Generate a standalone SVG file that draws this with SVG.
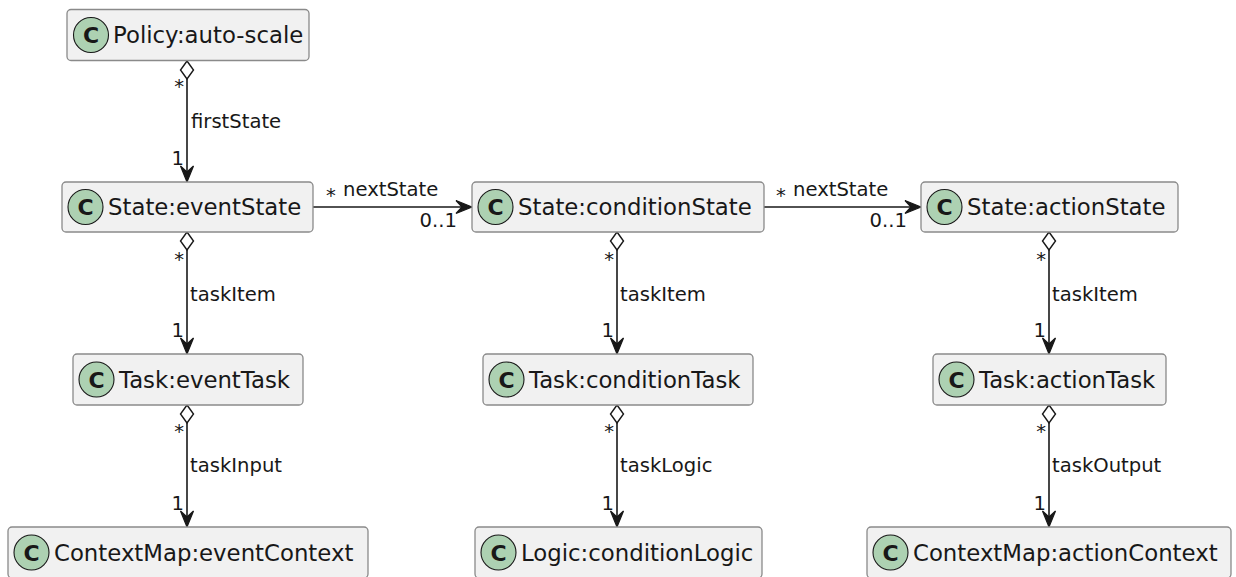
<svg xmlns="http://www.w3.org/2000/svg" width="1236" height="577" viewBox="0 0 1236 577">
<style>
.box{fill:#F1F1F1;stroke:#8a8a8a;stroke-width:1.3}
.ci{fill:#ADD1B2;stroke:#181818;stroke-width:1.1}
.cl{font-family:"DejaVu Sans",sans-serif;font-size:22px;font-weight:bold;fill:#181818;text-anchor:middle}
.nm{font-family:"DejaVu Sans",sans-serif;font-size:22.8px;fill:#181818}
.lb{font-family:"DejaVu Sans",sans-serif;font-size:19.6px;fill:#181818}
.en{text-anchor:end}
.ln{stroke:#181818;stroke-width:1.6;fill:none}
.dm{fill:#FFFFFF;stroke:#181818;stroke-width:1.4}
.ah{fill:#181818;stroke:#181818;stroke-width:1.2;stroke-linejoin:miter}
</style>
<rect width="1236" height="577" fill="#FFFFFF"/>
<g id="connectors">
  <!-- Policy -> eventState -->
  <polygon class="dm" points="187,61 193.5,70 187,79 180.5,70"/>
  <line class="ln" x1="187" y1="79" x2="187" y2="180"/>
  <polygon class="ah" points="187,182 180.5,166 187,172 193.5,166"/>
  <text class="lb" x="191" y="128">firstState</text>
  <text class="lb en" x="184" y="93">*</text>
  <text class="lb en" x="184" y="165">1</text>
  <!-- eventState -> eventTask -->
  <polygon class="dm" points="187,232 193.5,241 187,250 180.5,241"/>
  <line class="ln" x1="187" y1="250" x2="187" y2="352"/>
  <polygon class="ah" points="187,354 180.5,338 187,344 193.5,338"/>
  <text class="lb" x="190" y="300.5">taskItem</text>
  <text class="lb en" x="184" y="266">*</text>
  <text class="lb en" x="184" y="336.5">1</text>
  <!-- eventTask -> eventContext -->
  <polygon class="dm" points="187,405 193.5,414 187,423 180.5,414"/>
  <line class="ln" x1="187" y1="423" x2="187" y2="525"/>
  <polygon class="ah" points="187,527 180.5,511 187,517 193.5,511"/>
  <text class="lb" x="190" y="472">taskInput</text>
  <text class="lb en" x="184" y="438">*</text>
  <text class="lb en" x="184" y="509.5">1</text>
  <!-- conditionState -> conditionTask -->
  <polygon class="dm" points="617,232 623.5,241 617,250 610.5,241"/>
  <line class="ln" x1="617" y1="250" x2="617" y2="352"/>
  <polygon class="ah" points="617,354 610.5,338 617,344 623.5,338"/>
  <text class="lb" x="620" y="300.5">taskItem</text>
  <text class="lb en" x="614" y="266">*</text>
  <text class="lb en" x="614" y="336.5">1</text>
  <!-- conditionTask -> conditionLogic -->
  <polygon class="dm" points="617,405 623.5,414 617,423 610.5,414"/>
  <line class="ln" x1="617" y1="423" x2="617" y2="525"/>
  <polygon class="ah" points="617,527 610.5,511 617,517 623.5,511"/>
  <text class="lb" x="620" y="472">taskLogic</text>
  <text class="lb en" x="614" y="438">*</text>
  <text class="lb en" x="614" y="509.5">1</text>
  <!-- actionState -> actionTask -->
  <polygon class="dm" points="1049,232 1055.5,241 1049,250 1042.5,241"/>
  <line class="ln" x1="1049" y1="250" x2="1049" y2="352"/>
  <polygon class="ah" points="1049,354 1042.5,338 1049,344 1055.5,338"/>
  <text class="lb" x="1052" y="300.5">taskItem</text>
  <text class="lb en" x="1046" y="266">*</text>
  <text class="lb en" x="1046" y="336.5">1</text>
  <!-- actionTask -> actionContext -->
  <polygon class="dm" points="1049,405 1055.5,414 1049,423 1042.5,414"/>
  <line class="ln" x1="1049" y1="423" x2="1049" y2="525"/>
  <polygon class="ah" points="1049,527 1042.5,511 1049,517 1055.5,511"/>
  <text class="lb" x="1052" y="472">taskOutput</text>
  <text class="lb en" x="1046" y="438">*</text>
  <text class="lb en" x="1046" y="509.5">1</text>
  <!-- eventState -> conditionState -->
  <line class="ln" x1="313" y1="207" x2="470" y2="207"/>
  <polygon class="ah" points="472,207 456,200.5 462,207 456,213.5"/>
  <text class="lb" x="326" y="202">*</text>
  <text class="lb" x="343" y="196">nextState</text>
  <text class="lb en" x="457" y="227">0..1</text>
  <!-- conditionState -> actionState -->
  <line class="ln" x1="764" y1="207" x2="919" y2="207"/>
  <polygon class="ah" points="921,207 905,200.5 911,207 905,213.5"/>
  <text class="lb" x="776" y="202">*</text>
  <text class="lb" x="793" y="196">nextState</text>
  <text class="lb en" x="907" y="227">0..1</text>
</g>
<g id="policy">
  <rect class="box" x="67" y="9.5" width="242" height="51" rx="4"/>
  <circle class="ci" cx="91" cy="35" r="17.5"/>
  <text class="cl" x="91" y="43">C</text>
  <text class="nm" x="113" y="43">Policy:auto-scale</text>
</g>
<g id="eventState">
  <rect class="box" x="62" y="182" width="251" height="50" rx="4"/>
  <circle class="ci" cx="85.5" cy="207" r="17.5"/>
  <text class="cl" x="85.5" y="215">C</text>
  <text class="nm" x="108" y="215">State:eventState</text>
</g>
<g id="eventTask">
  <rect class="box" x="73" y="354" width="230" height="51" rx="4"/>
  <circle class="ci" cx="96.5" cy="379.5" r="17.5"/>
  <text class="cl" x="96.5" y="387.5">C</text>
  <text class="nm" x="119" y="387.5">Task:eventTask</text>
</g>
<g id="eventContext">
  <rect class="box" x="8" y="527" width="360" height="51" rx="4"/>
  <circle class="ci" cx="31.5" cy="552.5" r="17.5"/>
  <text class="cl" x="31.5" y="560.5">C</text>
  <text class="nm" x="54" y="560.5">ContextMap:eventContext</text>
</g>
<g id="conditionState">
  <rect class="box" x="472" y="182" width="292" height="50" rx="4"/>
  <circle class="ci" cx="495.5" cy="207" r="17.5"/>
  <text class="cl" x="495.5" y="215">C</text>
  <text class="nm" x="518" y="215">State:conditionState</text>
</g>
<g id="conditionTask">
  <rect class="box" x="483" y="354" width="270" height="51" rx="4"/>
  <circle class="ci" cx="506.5" cy="379.5" r="17.5"/>
  <text class="cl" x="506.5" y="387.5">C</text>
  <text class="nm" x="529" y="387.5">Task:conditionTask</text>
</g>
<g id="conditionLogic">
  <rect class="box" x="475" y="527" width="287" height="51" rx="4"/>
  <circle class="ci" cx="498.5" cy="552.5" r="17.5"/>
  <text class="cl" x="498.5" y="560.5">C</text>
  <text class="nm" x="521" y="560.5">Logic:conditionLogic</text>
</g>
<g id="actionState">
  <rect class="box" x="921" y="182" width="257" height="50" rx="4"/>
  <circle class="ci" cx="944.5" cy="207" r="17.5"/>
  <text class="cl" x="944.5" y="215">C</text>
  <text class="nm" x="967" y="215">State:actionState</text>
</g>
<g id="actionTask">
  <rect class="box" x="933" y="354" width="233" height="51" rx="4"/>
  <circle class="ci" cx="956.5" cy="379.5" r="17.5"/>
  <text class="cl" x="956.5" y="387.5">C</text>
  <text class="nm" x="979" y="387.5">Task:actionTask</text>
</g>
<g id="actionContext">
  <rect class="box" x="867" y="527" width="364" height="51" rx="4"/>
  <circle class="ci" cx="890.5" cy="552.5" r="17.5"/>
  <text class="cl" x="890.5" y="560.5">C</text>
  <text class="nm" x="913" y="560.5">ContextMap:actionContext</text>
</g>
</svg>
